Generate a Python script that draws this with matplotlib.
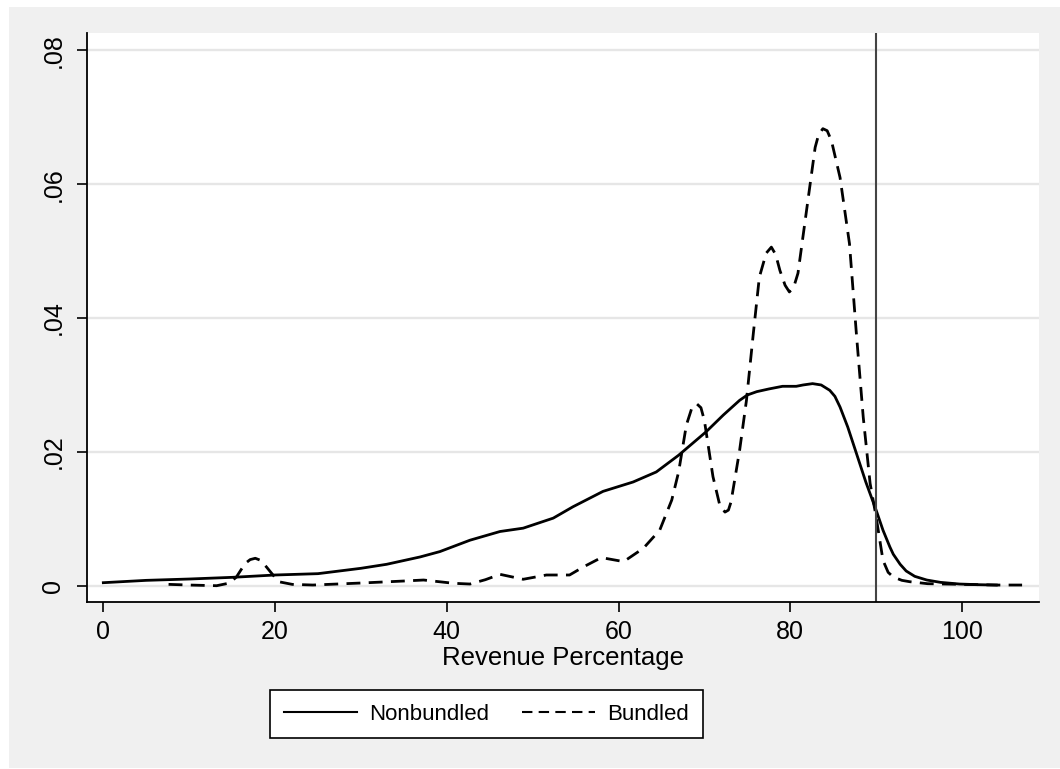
import matplotlib
matplotlib.use('Agg')
import matplotlib.pyplot as plt
from matplotlib.patches import Rectangle

# Kernel density estimates
nb_x = [0, 5, 10, 15, 20, 25, 30, 33, 36.9, 39.2, 42.7, 46.2, 48.9, 52.4, 54.7,
        58.2, 61.7, 64.4, 67.0, 70.2, 72.2, 74.1, 75.0, 76.1, 77.5, 79.1, 80.7,
        81.5, 82.6, 83.6, 84.6, 85.2, 85.8, 86.7, 87.7, 88.8, 90.0, 90.8, 91.6,
        92.0, 92.8, 93.5, 94.5, 95.9, 97.5, 99.7, 102, 104]
nb_y = [.00045, .0008, .001, .00125, .0016, .0018, .0026, .0032, .0043, .0051,
        .0068, .0081, .0086, .0101, .0118, .0141, .0155, .0170, .0195, .0230,
        .0255, .0277, .0285, .0290, .0294, .0298, .0298, .0300, .0302, .0300,
        .0292, .0283, .0267, .0237, .0198, .0155, .0113, .0083, .0058, .0047,
        .0032, .0022, .0014, .00085, .0005, .00025, .00015, .0001]

b_x = [7.6, 10, 13.2, 14.7, 15.5, 16.5, 17.1, 17.7, 18.3, 19.0, 20.4, 22, 24.4,
       30, 35, 37.3, 40.8, 42.7, 44.5, 46.2, 48.9, 51.6, 54.3, 55.9, 58.0, 60.6,
       62.9, 64.8, 66.2, 67.0, 67.9, 68.5, 69.1, 69.6, 70.0, 71.0, 71.8, 72.4,
       72.8, 73.1, 74.1, 74.9, 75.7, 76.4, 77.2, 77.8, 78.3, 78.8, 79.4, 79.9,
       80.4, 80.9, 81.9, 82.9, 83.3, 83.8, 84.3, 84.8, 85.8, 86.9, 87.7, 88.5,
       89.3, 90.0, 90.8, 91.4, 92.0, 93.0, 93.9, 96, 100, 104, 107]
b_y = [.0002, .0001, 0, .0004, .0013, .0033, .0039, .0041, .0038, .0028, .0006,
       .0002, .0001, .0004, .0007, .00085, .00036, .00025, .0009, .0017, .00096,
       .0016, .0016, .0028, .0042, .0036, .0056, .0083, .0128, .017, .0240,
       .0264, .0272, .0266, .0247, .0163, .0120, .0110, .0113, .0125, .0202,
       .0277, .0377, .0461, .0497, .0506, .0495, .0471, .0449, .0439, .0446,
       .0467, .0561, .0655, .0674, .0683, .0680, .0665, .061, .0511, .0377,
       .0252, .0153, .0103, .0038, .0020, .0013, .0008, .0006, .0003, .0002,
       .0001, .0001]

cutoff = 90
xticks = [0, 20, 40, 60, 80, 100]
yticks = [0, .02, .04, .06, .08]
ytick_labels = ['0', '.02', '.04', '.06', '.08']

plt.rcParams['font.family'] = ['Liberation Sans', 'DejaVu Sans']

W, H = 1060, 769
fig = plt.figure(figsize=(W / 100, H / 100), dpi=100, facecolor='white')
fig.patches.append(Rectangle((9 / W, 1 / H), 1 - 9 / W, (H - 8) / H,
                             transform=fig.transFigure, facecolor='#f0f0f0',
                             edgecolor='none', zorder=-10))

ax = fig.add_axes([87 / W, 1 - 602.3 / H, (1039 - 87) / W, (602.3 - 33) / H])
ax.set_facecolor('white')

ax.plot(nb_x, nb_y, color='black', lw=2.0, label='Nonbundled',
        solid_joinstyle='round')
ax.plot(b_x, b_y, color='black', lw=2.0, linestyle=(0, (5, 3)),
        label='Bundled')
ax.axvline(cutoff, color='#444444', lw=1.5)

ax.set_xlim(-1.9, 108.97)
ax.set_ylim(-0.00248, 0.0826)
ax.set_xticks(xticks)
ax.set_yticks(yticks)
ax.set_yticklabels(ytick_labels, rotation=90, va='center')
ax.grid(axis='y', color='#e6e6e6', lw=1.7)
ax.set_axisbelow(True)

for s in ['top', 'right']:
    ax.spines[s].set_visible(False)
for s in ['left', 'bottom']:
    ax.spines[s].set_linewidth(1.3)
ax.tick_params(axis='both', length=7.5, width=1.2, labelsize=18, direction='out')
ax.tick_params(axis='x', pad=5)
ax.tick_params(axis='y', pad=8)

ax.set_xlabel('Revenue Percentage', fontsize=18.5, labelpad=2)

leg = fig.legend(loc='center', bbox_to_anchor=(486.5 / W, 1 - 714 / H), ncol=2,
                 frameon=True, fancybox=False, framealpha=1, handlelength=3.3,
                 handletextpad=0.55, columnspacing=1.45, borderpad=0.62,
                 prop={'size': 16})
leg.get_frame().set_edgecolor('black')
leg.get_frame().set_linewidth(1.2)
for line in leg.get_lines():
    line.set_linewidth(1.5)

fig.savefig('out.png', dpi=100, facecolor=fig.get_facecolor())
